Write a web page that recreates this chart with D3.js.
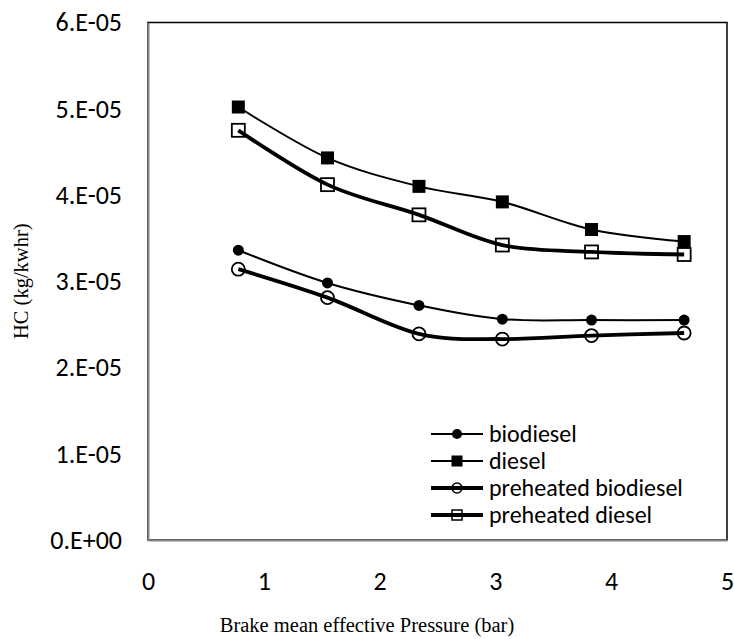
<!DOCTYPE html>
<html>
<head>
<meta charset="utf-8">
<script src="https://cdn.jsdelivr.net/npm/d3@7"></script>
<style>
  body { margin: 0; background: #fff; }
  svg { display: block; }
</style>
</head>
<body>
<svg id="chart" width="734" height="639"></svg>
<script>
// Brake mean effective pressure (bar) at each load point
const bmep = [0.78, 1.55, 2.34, 3.06, 3.83, 4.63];

// HC emission (kg/kWhr) per fuel
const biodiesel          = [3.36e-5, 2.98e-5, 2.72e-5, 2.56e-5, 2.55e-5, 2.55e-5];
const diesel             = [5.02e-5, 4.43e-5, 4.10e-5, 3.92e-5, 3.60e-5, 3.46e-5];
const preheatedBiodiesel = [3.14e-5, 2.81e-5, 2.39e-5, 2.33e-5, 2.37e-5, 2.40e-5];
const preheatedDiesel    = [4.75e-5, 4.12e-5, 3.77e-5, 3.42e-5, 3.34e-5, 3.31e-5];

const seriesNames = ["biodiesel", "diesel", "preheated biodiesel", "preheated diesel"];

const xTicks = [0, 1, 2, 3, 4, 5];
const yTicks = [0, 1e-5, 2e-5, 3e-5, 4e-5, 5e-5, 6e-5];
const yTickLabels = ["0.E+00", "1.E-05", "2.E-05", "3.E-05", "4.E-05", "5.E-05", "6.E-05"];

const xTitle = "Brake mean effective Pressure (bar)";
const yTitle = "HC (kg/kwhr)";

const svg = d3.select("#chart");
const plot = { left: 148, right: 727, top: 22.5, bottom: 540 };

const x = d3.scaleLinear().domain([0, 5]).range([plot.left, plot.right]);
const y = d3.scaleLinear().domain([0, 6e-5]).range([plot.bottom, plot.top]);

const tickFont = "Carlito, Calibri, Lato, sans-serif";
const titleFont = "'Liberation Serif', 'Times New Roman', serif";

// plot area border
svg.append("rect")
  .attr("x", plot.left).attr("y", plot.top)
  .attr("width", plot.right - plot.left).attr("height", plot.bottom - plot.top)
  .attr("fill", "none").attr("stroke", "#000").attr("stroke-width", 1.5);

// axes
const yAxis = svg.append("g")
  .attr("transform", `translate(${plot.left},0)`)
  .call(d3.axisLeft(y).tickValues(yTicks).tickSize(0).tickPadding(26)
    .tickFormat((d, i) => yTickLabels[i]));
const xAxis = svg.append("g")
  .attr("transform", `translate(0,${plot.bottom})`)
  .call(d3.axisBottom(x).tickValues(xTicks).tickSize(0).tickPadding(32)
    .tickFormat(d3.format("d")));
[yAxis, xAxis].forEach(g => {
  g.select(".domain").attr("stroke", "#868686").attr("stroke-width", 2);
  g.selectAll("text")
    .attr("font-family", tickFont).attr("font-size", 26).attr("fill", "#000");
});

// axis titles
svg.append("text")
  .attr("x", 367).attr("y", 632)
  .attr("text-anchor", "middle")
  .attr("font-family", titleFont).attr("font-size", 20.5)
  .text(xTitle);
svg.append("text")
  .attr("transform", `translate(28,${(plot.top + plot.bottom) / 2}) rotate(-90)`)
  .attr("text-anchor", "middle")
  .attr("font-family", titleFont).attr("font-size", 20.5)
  .text(yTitle);

// series definitions
const series = [
  { name: seriesNames[0], values: biodiesel,          width: 2,   marker: "circle", filled: true,  size: 11 },
  { name: seriesNames[1], values: diesel,             width: 2,   marker: "square", filled: true,  size: 13 },
  { name: seriesNames[2], values: preheatedBiodiesel, width: 3.8, marker: "circle", filled: false, size: 15 },
  { name: seriesNames[3], values: preheatedDiesel,    width: 3.8, marker: "square", filled: false, size: 15 }
];

const line = d3.line()
  .x(d => x(d[0])).y(d => y(d[1]))
  .curve(d3.curveCardinal.tension(0));

function drawMarker(g, type, filled, size, cx, cy, sw) {
  if (type === "circle") {
    g.append("circle")
      .attr("cx", cx).attr("cy", cy).attr("r", filled ? size / 2 : size / 2 - 1)
      .attr("fill", filled ? "#000" : "none")
      .attr("stroke", "#000").attr("stroke-width", filled ? 0 : sw);
  } else {
    const s = filled ? size : size - 2;
    g.append("rect")
      .attr("x", cx - s / 2).attr("y", cy - s / 2)
      .attr("width", s).attr("height", s)
      .attr("fill", filled ? "#000" : "none")
      .attr("stroke", "#000").attr("stroke-width", filled ? 0 : sw);
  }
}

series.forEach(s => {
  const pts = bmep.map((b, i) => [b, s.values[i]]);
  const g = svg.append("g");
  g.append("path")
    .attr("d", line(pts))
    .attr("fill", "none").attr("stroke", "#000")
    .attr("stroke-width", s.width).attr("stroke-linejoin", "round");
  pts.forEach(p => drawMarker(g, s.marker, s.filled, s.size, x(p[0]), y(p[1]), 1.8));
});

// legend
const legend = svg.append("g").attr("transform", "translate(431,434)");
series.forEach((s, i) => {
  const row = legend.append("g").attr("transform", `translate(0,${i * 27})`);
  row.append("line")
    .attr("x1", 0).attr("x2", 52).attr("y1", 0).attr("y2", 0)
    .attr("stroke", "#000").attr("stroke-width", s.width);
  drawMarker(row, s.marker, s.filled, s.filled ? (s.marker === "square" ? 11 : 10) : 12, 26, 0, 1.5);
  row.append("text")
    .attr("x", 58).attr("y", 0).attr("dy", "0.35em")
    .attr("font-family", tickFont).attr("font-size", 24)
    .text(s.name);
});
</script>
</body>
</html>
